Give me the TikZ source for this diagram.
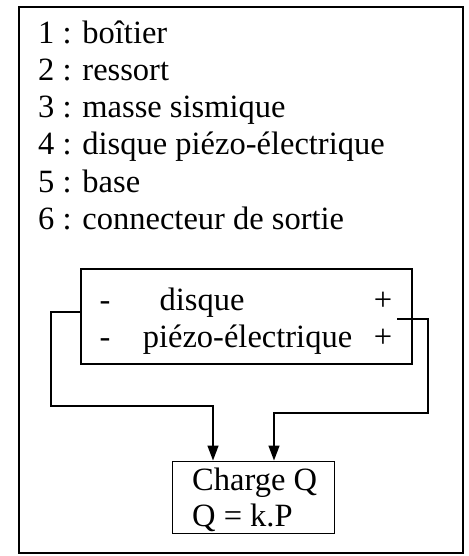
\documentclass[tikz,border=0pt]{standalone}
\usepackage{fontspec}
\setmainfont{Liberation Serif}
\usetikzlibrary{arrows.meta,positioning,calc}

\tikzset{
  txt/.style={anchor=base west, inner sep=0pt, font=\fontsize{32.5}{37}\selectfont},
  ctxt/.style={anchor=base, inner sep=0pt, font=\fontsize{32.5}{37}\selectfont},
  box/.style={draw, line width=1.4pt, inner sep=0pt},
  wire/.style={line width=1.4pt},
  arr/.style={wire, -{Triangle[length=15pt,width=11pt]}}
}

\begin{document}
\begin{tikzpicture}[x=1pt,y=-1pt]
  \useasboundingbox (0,0) rectangle (468,556);
  % Outer frame
  \draw[line width=2.2pt] (19,7) rectangle (463,553);
  % List of parts
  \node[txt] (l1) at (38,44)  {1 : boîtier};
  \node[txt] (l2) at (38,81)  {2 : ressort};
  \node[txt] (l3) at (38,118) {3 : masse sismique};
  \node[txt] (l4) at (38,155) {4 : disque piézo-électrique};
  \node[txt] (l5) at (38,192) {5 : base};
  \node[txt] (l6) at (38,229) {6 : connecteur de sortie};
  % Piezo disc
  \node[box, minimum width=331pt, minimum height=95pt] (disque) at (246.5,316.5) {};
  \node[ctxt] (mA) at (105,310) {-};
  \node[ctxt] (mB) at (105,347) {-};
  \node[ctxt] (dA) at (202,310) {disque};
  \node[ctxt] (dB) at (247.5,347) {piézo-électrique};
  \node[ctxt] (pA) at (383,310) {+};
  \node[ctxt] (pB) at (383,347) {+};
  % Charge
  \node[box, line width=1pt, minimum width=162pt, minimum height=72pt] (charge) at (253,497) {};
  \node[txt] (cA) at (192,490) {Charge Q};
  \node[txt] (cB) at (192,526) {Q = k.P};
  % Wires
  \coordinate (lw) at (81,312);
  \coordinate (lc) at (213,406);
  \coordinate (rw) at (397,319);
  \coordinate (rc) at (274,413);
  \draw[arr] (lw) -- (51,312) -- (51,406) -- (lc) -- (lc |- charge.north);
  \draw[arr] (rw) -- (428,319) -- (428,413) -- (rc) -- (rc |- charge.north);
\end{tikzpicture}
\end{document}
